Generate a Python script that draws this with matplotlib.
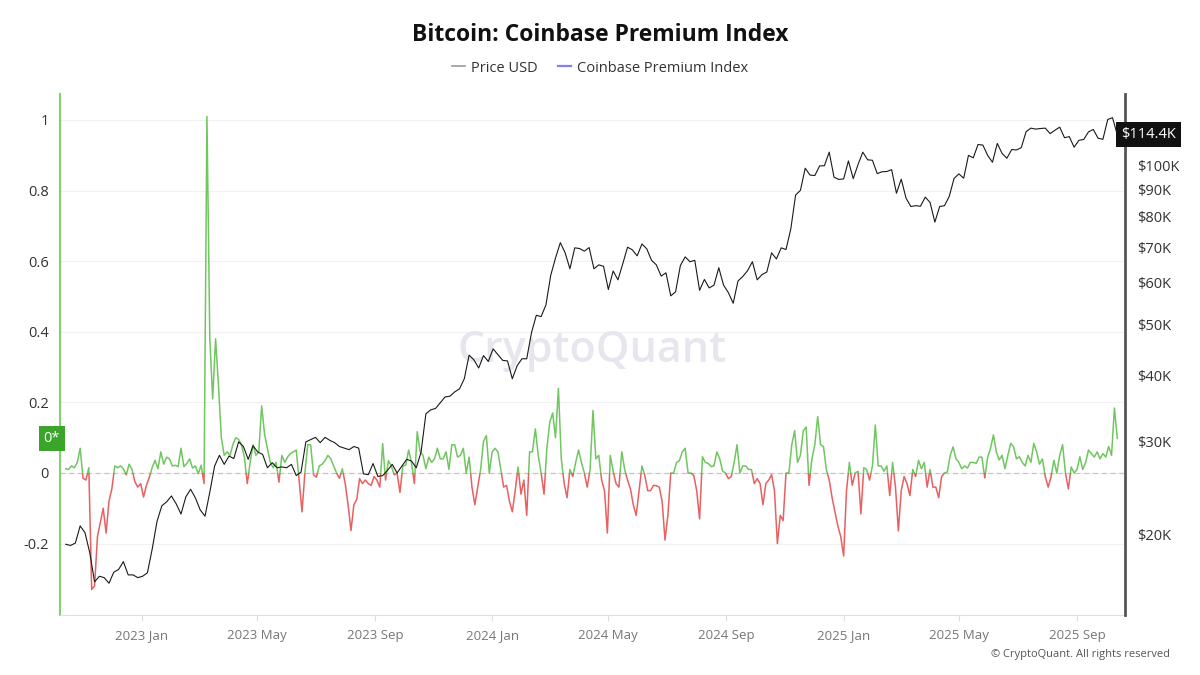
import matplotlib
matplotlib.use('Agg')
import matplotlib.pyplot as plt
import matplotlib.dates as mdates
import matplotlib.ticker as mticker
import matplotlib.transforms as mtransforms
from matplotlib.lines import Line2D
from matplotlib.patches import Rectangle
import pandas as pd

plt.rcParams['font.family'] = ['Open Sans', 'DejaVu Sans']

# Coinbase premium index, one value every 3 days from 2022-10-14
PREMIUM_START = '2022-10-14'
premium = [
    0.012, 0.01, 0.02, 0.015, 0.03, 0.07, -0.015, -0.02, 0.015, -0.33,
    -0.32, -0.18, -0.14, -0.10, -0.17, -0.08, -0.045, 0.02, 0.015, 0.02,
    0.012, -0.005, 0.025, 0.01, -0.025, -0.04, -0.03, -0.068, -0.035, -0.012,
    0.016, 0.036, 0.012, 0.06, 0.025, 0.045, 0.04, 0.02, 0.022, 0.018,
    0.07, 0.018, 0.027, 0.04, 0.014, 0.02, -0.002, 0.022, -0.03, 1.01,
    0.38, 0.21, 0.38, 0.25, 0.10, 0.05, 0.06, 0.05, 0.08, 0.10,
    0.095, 0.08, 0.045, -0.03, 0.03, 0.08, 0.05, 0.06, 0.19, 0.11,
    0.07, 0.03, 0.015, 0.03, -0.026, 0.05, 0.03, 0.045, 0.055, 0.06,
    0.065, -0.02, -0.11, 0.0, 0.08, 0.08, -0.005, -0.012, 0.02, 0.025,
    0.035, 0.05, 0.04, 0.02, 0.0, -0.015, 0.012, -0.03, -0.09, -0.163,
    -0.09, -0.075, -0.016, -0.03, -0.02, -0.03, -0.035, -0.01, -0.02, -0.04,
    0.083, -0.02, 0.035, 0.02, -0.005, 0.0, -0.055, 0.02, 0.022, 0.065,
    0.03, -0.03, 0.117, 0.06, 0.05, 0.012, 0.045, 0.03, 0.04, 0.07,
    0.04, 0.04, 0.06, 0.01, 0.08, 0.08, 0.045, 0.05, 0.07, 0.0,
    0.045, -0.04, -0.09, -0.04, 0.01, 0.09, 0.106, 0.0, 0.06, 0.07,
    0.06, 0.01, -0.04, -0.035, -0.08, -0.11, -0.05, 0.017, -0.06, -0.02,
    -0.12, 0.06, 0.06, 0.125, 0.05, 0.0, -0.06, 0.07, 0.144, 0.17,
    0.1, 0.24, 0.04, -0.03, -0.07, 0.01, -0.01, 0.03, 0.065, 0.03,
    0.0, -0.04, 0.01, 0.177, 0.04, 0.05, -0.02, -0.05, -0.17, 0.05,
    0.005, -0.03, -0.04, 0.06, 0.01, -0.02, -0.045, -0.09, -0.12, -0.05,
    0.02, -0.007, -0.05, -0.05, -0.035, -0.036, -0.04, -0.08, -0.19, -0.12,
    0.0, 0.0, 0.03, 0.035, 0.06, 0.07, 0.0, 0.0, -0.007, -0.05,
    -0.13, 0.046, 0.03, 0.027, 0.018, 0.02, 0.06, 0.04, 0.005, 0.0,
    -0.016, -0.01, 0.03, 0.08, 0.0, 0.02, 0.02, 0.01, 0.01, -0.03,
    -0.016, -0.03, -0.09, -0.03, -0.02, -0.005, -0.05, -0.2, -0.12, -0.135,
    0.0, 0.0, 0.08, 0.12, 0.03, 0.05, 0.12, 0.13, -0.035, 0.04,
    0.08, 0.16, 0.08, 0.075, 0.01, -0.02, -0.07, -0.11, -0.15, -0.18,
    -0.235, -0.05, 0.03, -0.035, 0.0, 0.005, -0.116, 0.015, 0.01, -0.02,
    0.02, 0.136, 0.02, 0.02, 0.005, 0.02, -0.064, 0.03, -0.04, -0.164,
    -0.05, -0.01, -0.03, -0.064, 0.01, -0.01, 0.036, 0.012, 0.03, -0.04,
    0.01, -0.04, -0.04, -0.07, -0.01, 0.0, 0.003, 0.05, 0.074, 0.04,
    0.03, 0.012, 0.02, 0.014, 0.03, 0.03, 0.027, 0.045, 0.045, -0.014,
    0.045, 0.07, 0.108, 0.06, 0.037, 0.05, 0.012, 0.05, 0.084, 0.074,
    0.04, 0.046, 0.03, 0.02, 0.05, 0.03, 0.084, 0.06, 0.025, 0.04,
    -0.01, -0.04, -0.01, 0.036, 0.0, 0.05, 0.08, 0.0, -0.045, 0.017,
    0.0, 0.01, 0.046, 0.01, 0.03, 0.065, 0.055, 0.045, 0.06, 0.04,
    0.055, 0.045, 0.075, 0.05, 0.184, 0.098,
]

# BTC price in thousands of USD, one value every 5 days from 2022-10-14
PRICE_START = '2022-10-14'
price_k = [
    19.2, 19.1, 19.3, 20.8, 20.2, 18.5, 16.3, 16.7, 16.6, 16.2,
    17.0, 17.2, 17.8, 16.8, 16.8, 16.6, 16.7, 16.95, 18.8, 21.2,
    22.7, 23.1, 23.7, 22.9, 21.9, 23.6, 24.4, 23.5, 22.3, 21.7,
    24.1, 27.0, 28.3, 27.2, 28.2, 27.9, 30.0, 29.4, 27.8, 29.5,
    28.7, 28.4, 26.8, 27.4, 26.8, 26.9, 26.8, 27.2, 25.9, 26.3,
    30.0, 30.3, 30.6, 29.9, 30.6, 30.2, 29.9, 29.4, 29.2, 29.0,
    29.4, 29.2, 26.1, 26.0, 27.3, 25.8, 25.9, 26.5, 27.2, 26.2,
    27.0, 27.8, 27.6, 26.8, 28.7, 33.9, 34.5, 34.7, 35.6, 36.5,
    36.6, 37.3, 37.8, 39.5, 43.8, 42.9, 41.4, 43.7, 42.6, 45.0,
    43.9, 42.8, 42.7, 39.5, 41.8, 43.1, 43.1, 48.3, 52.1, 51.8,
    54.5, 62.0, 66.9, 71.5, 68.4, 63.8, 69.9, 69.7, 68.9, 70.0,
    63.8, 64.9, 64.5, 58.3, 63.2, 60.8, 65.2, 70.1, 69.3, 67.5,
    71.1, 69.6, 66.2, 64.9, 61.8, 62.7, 56.7, 57.7, 64.7, 67.2,
    65.8, 66.2, 58.1, 60.9, 58.7, 59.4, 64.1, 59.4, 57.5, 54.9,
    60.5, 61.7, 63.3, 65.8, 60.8, 62.2, 62.9, 68.4, 66.6, 69.9,
    69.4, 75.9, 88.0, 89.8, 98.9, 96.0, 95.8, 99.9, 100.0, 106.1,
    95.1, 94.2, 94.4, 102.1, 94.5, 100.5, 106.1, 102.6, 102.4, 96.6,
    97.4, 97.5, 98.3, 88.7, 94.3, 86.8, 83.7, 84.0, 83.8, 87.2,
    85.2, 78.2, 83.7, 84.0, 87.5, 94.6, 96.5, 94.7, 104.6, 103.5,
    109.7, 109.4, 104.6, 101.5, 110.2, 105.5, 103.3, 107.3, 107.1, 108.2,
    116.0, 117.8, 117.3, 117.6, 117.8, 115.0, 116.7, 118.3, 113.0, 113.5,
    108.4, 111.7, 112.1, 115.9, 117.1, 112.7, 112.2, 122.3, 123.3, 114.4,
]

left_ticks = [-0.2, 0, 0.2, 0.4, 0.6, 0.8, 1]
price_ticks = [20000, 30000, 40000, 50000, 60000, 70000, 80000, 90000, 100000]

GREEN = '#70c660'
RED = '#e86060'

prem_dates = pd.date_range(PREMIUM_START, periods=len(premium), freq='3D')
price_dates = pd.date_range(PRICE_START, periods=len(price_k), freq='5D')
price_usd = [p * 1000 for p in price_k]

fig = plt.figure(figsize=(12, 6.75), dpi=100)
ax = fig.add_axes([0.05, 0.089, 0.8875, 0.772])
ax2 = ax.twinx()

# watermark behind the series
ax.text(0.5, 0.508, 'CryptoQuant', transform=ax.transAxes, ha='center',
        va='center', fontsize=31, fontweight='semibold', color='#e6e6ee', zorder=1)

# premium line, green above zero and red below (same line clipped twice)
band = mtransforms.blended_transform_factory(ax.transAxes, ax.transData)
for color, y0 in [(GREEN, 0), (RED, -10)]:
    ln, = ax.plot(prem_dates, premium, color=color, lw=1.1, zorder=3)
    clip = Rectangle((0, y0), 1, 10, transform=band)
    ln.set_clip_path(clip)

ax.axhline(0, color='#c4c4cc', lw=0.9, ls=(0, (4, 3)), zorder=2)

ax.set_ylim(-0.402, 1.074)
ax.set_xlim(pd.Timestamp('2022-10-08'), pd.Timestamp('2025-10-21'))
ax.set_yticks(left_ticks)
ax.yaxis.set_major_formatter(mticker.FuncFormatter(lambda v, p: f'{v:g}'))
ax.yaxis.grid(True, color='#f1f1f1', lw=0.8)
ax.set_axisbelow(True)
ax.xaxis.set_major_locator(mdates.MonthLocator(bymonth=[1, 5, 9]))
ax.xaxis.set_major_formatter(mdates.DateFormatter('%Y %b'))
ax.tick_params(axis='y', length=0, labelsize=10.5, labelcolor='#333333', pad=8)
ax.tick_params(axis='x', length=4, color='#dddddd', labelsize=9.5,
               labelcolor='#777777', pad=6)
ax.spines['top'].set_visible(False)
ax.spines['right'].set_visible(False)
ax.spines['left'].set_color('#7fd26f')
ax.spines['left'].set_linewidth(1.5)
ax.spines['bottom'].set_color('#e0e0e0')

# price on log scale
ax2.plot(price_dates, price_usd, color='#1a1a1a', lw=0.8, zorder=4)
ax2.set_yscale('log')
ax2.set_ylim(14110, 136800)
ax2.yaxis.set_major_locator(mticker.FixedLocator(price_ticks))
ax2.yaxis.set_minor_locator(mticker.NullLocator())
ax2.yaxis.set_major_formatter(mticker.FuncFormatter(lambda v, p: f'${v / 1000:.0f}K'))
ax2.tick_params(axis='y', length=0, labelsize=10.5, labelcolor='#333333', pad=9)
for s in ['top', 'left', 'bottom']:
    ax2.spines[s].set_visible(False)
ax2.spines['right'].set_color('#555555')
ax2.spines['right'].set_linewidth(2)

# current value tags
band2 = mtransforms.blended_transform_factory(ax2.transAxes, ax2.transData)
ax2.text(0.996, price_usd[-1], f'${price_k[-1]:.1f}K', transform=band2,
         ha='left', va='center', color='white', fontsize=10.5,
         bbox=dict(boxstyle='square,pad=0.35', fc='#111111', ec='none'), zorder=6)
ax.text(0, premium[-1], '0*', transform=band, ha='right', va='center',
        color='white', fontsize=10.5, clip_on=False,
        bbox=dict(boxstyle='square,pad=0.35', fc='#3aa52a', ec='none'))

fig.text(0.5, 1 - 35 / 675, 'Bitcoin: Coinbase Premium Index', ha='center',
         va='center', fontsize=16.5, fontweight='bold', color='#111111')

handles = [Line2D([], [], color='#999999', lw=1.2),
           Line2D([], [], color='#8080f0', lw=1.6)]
fig.legend(handles, ['Price USD', 'Coinbase Premium Index'], loc='center',
           bbox_to_anchor=(0.5, 1 - 68 / 675), ncol=2, frameon=False,
           fontsize=10.5, handlelength=0.9, handletextpad=0.4,
           columnspacing=1.4, labelcolor='#333333')

fig.text(0.975, 1 - 655 / 675, '\u00a9 CryptoQuant. All rights reserved',
         ha='right', va='center', fontsize=8, color='#555555')

fig.savefig('out.png', dpi=100)
